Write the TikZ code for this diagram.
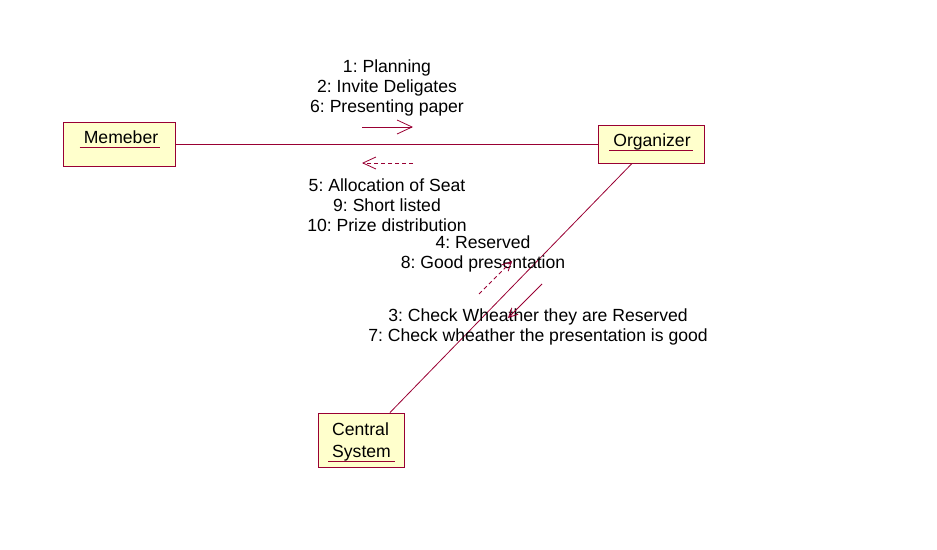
\documentclass[tikz,border=0pt]{standalone}
\usepackage{fontspec}
\setmainfont{Liberation Sans}
\usetikzlibrary{arrows.meta,calc}
\definecolor{rose}{RGB}{153,0,51}
\definecolor{objfill}{RGB}{255,255,204}
\frenchspacing
\begin{document}
\begin{tikzpicture}[x=1pt,y=-1pt,
  objbox/.style={draw=rose,fill=objfill,line width=0.9pt,inner sep=0pt},
  lbl/.style={inner sep=0pt,font=\fontsize{17.6}{20}\selectfont},
  msg/.style={inner sep=0pt,align=center,font=\fontsize{17.6}{20}\selectfont},
  uline/.style={draw=rose,line width=0.9pt},
  link/.style={draw=rose,line width=0.8pt},
  fwd/.style={draw=rose,line width=0.8pt,-{Straight Barb[length=15pt,width=14pt]}},
  ret/.style={draw=rose,line width=0.8pt,dash pattern=on 4pt off 3pt,-{Straight Barb[length=13pt,width=12pt]}},
  fwds/.style={draw=rose,line width=0.8pt,-{Straight Barb[length=9pt,width=9pt]}},
  rets/.style={draw=rose,line width=0.8pt,dash pattern=on 4pt off 3pt,-{Straight Barb[length=9pt,width=9pt]}}]
\useasboundingbox (0,0) rectangle (937,549);
% objects
\node[objbox,minimum width=112pt,minimum height=44pt] (mem) at (119,144) {};
\node[lbl,anchor=base] (memt) at (121,143) {Memeber};
\draw[uline] ($(memt.base west)+(-4,4)$) -- ($(memt.base east)+(2,4)$);
\node[objbox,minimum width=106pt,minimum height=38pt] (org) at (651,144) {};
\node[lbl,anchor=base] (orgt) at (652,146) {Organizer};
\draw[uline] ($(orgt.base west)+(-4,4)$) -- ($(orgt.base east)+(2,4)$);
\node[objbox,minimum width=86pt,minimum height=54pt] (cs) at (361,440) {};
\node[lbl,anchor=base west] (cst1) at (332,435) {Central};
\node[lbl,anchor=base west] (cst2) at (332,457) {System};
\draw[uline] ($(cst2.base west)+(-4,4)$) -- ($(cst2.base east)+(4,4)$);
% links
\draw[link] (mem.east) -- (org.west);
\draw[link] ([xshift=-19pt]org.south) -- ([xshift=29pt]cs.north);
% messages
\node[msg] (m1) at (387,88) {1: Planning\\2: Invite Deligates\\6: Presenting paper};
\node[msg] (m2) at (387,205) {5: Allocation of Seat\\9: Short listed\\10: Prize distribution};
\node[msg] (m3) at (483,254) {4: Reserved\\8: Good presentation};
\node[msg] (m4) at (538,327) {3: Check Wheather they are Reserved\\7: Check wheather the presentation is good};
% message arrows
\coordinate (a1s) at (362,127); \coordinate (a1e) at (413,127);
\draw[fwd] (a1s) -- (a1e);
\coordinate (a2s) at (413,163); \coordinate (a2e) at (362,163);
\draw[ret] (a2s) -- (a2e);
\coordinate (a3s) at (479,294); \coordinate (a3e) at (512,261);
\draw[rets] (a3s) -- (a3e);
\coordinate (a4s) at (542,284); \coordinate (a4e) at (508,318);
\draw[fwds] (a4s) -- (a4e);
\end{tikzpicture}
\end{document}
